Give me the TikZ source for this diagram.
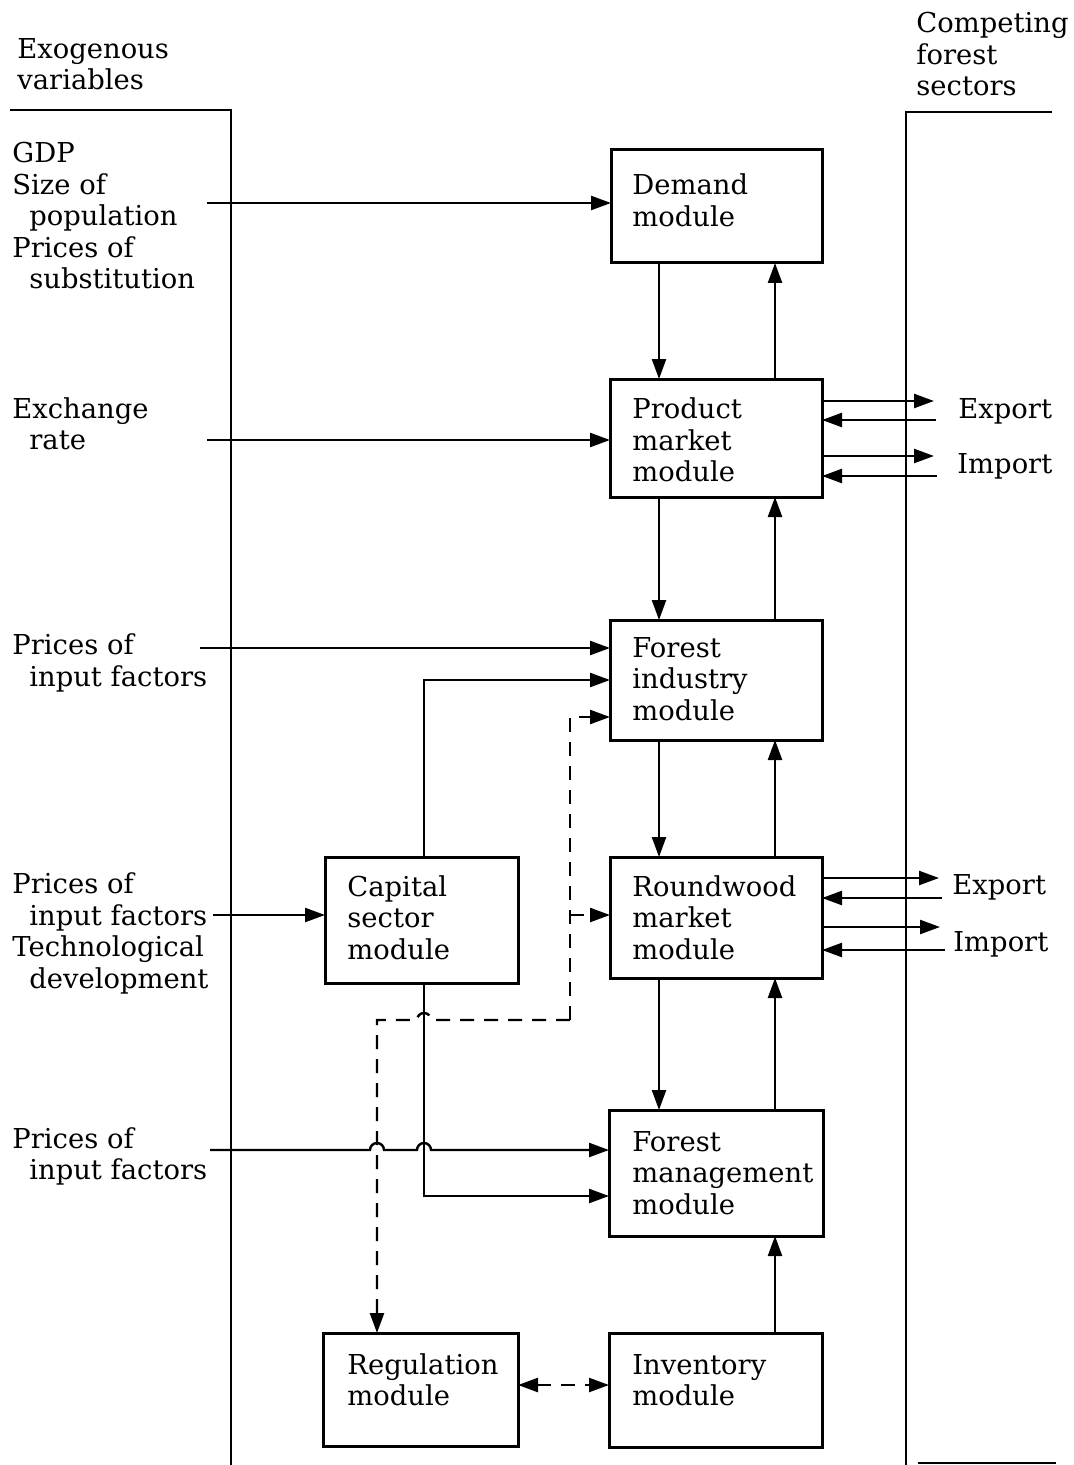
\documentclass[tikz,border=0pt]{standalone}
\usepackage{fontspec}
\setmainfont{DejaVu Serif}
\usetikzlibrary{arrows.meta}
\begin{document}
\begin{tikzpicture}[x=0.5pt,y=-0.5pt,
  box/.style 2 args={draw,line width=1.5pt,inner sep=0pt,outer sep=0pt,minimum width=#1*0.5pt,minimum height=#2*0.5pt},
  txt/.style={anchor=west,inner sep=0pt,align=left,font=\fontsize{13.7}{15.75}\selectfont},
  tip/.tip={Triangle[length=10pt,width=7pt]},
  conn/.style={line width=1.2pt,-tip},
  dsh/.style={conn,dash pattern=on 7pt off 5pt},
  frame/.style={line width=1pt}]
\useasboundingbox (0,0) rectangle (1073,1465);

% frame lines
\draw[frame] (10,110) -- (231,110) -- (231,1465);
\draw[frame] (1052,112) -- (906,112) -- (906,1465);
\draw[frame] (918,1463) -- (1056,1463);

% headers
\node[txt] (hl) at (17,64) {Exogenous\\variables};
\node[txt] (hr) at (916,54.5) {Competing\\forest\\sectors};

% boxes
\node[box={211}{113}] (demand) at (716.5,206.5) {};
\node[box={212}{118}] (pm) at (716,438) {};
\node[box={212}{120}] (fi) at (716,680) {};
\node[box={212}{121}] (rw) at (716,917.5) {};
\node[box={214}{126}] (fm) at (716,1173) {};
\node[box={213}{114}] (inv) at (715.5,1390) {};
\node[box={193}{126}] (cap) at (421.5,920) {};
\node[box={195}{113}] (reg) at (420.5,1389.5) {};

% box texts
\node[txt] (demandT) at (632,200.5) {Demand\\module};
\node[txt] (pmT) at (632,440) {Product\\market\\module};
\node[txt] (fiT) at (632,679) {Forest\\industry\\module};
\node[txt] (rwT) at (632,917.5) {Roundwood\\market\\module};
\node[txt] (fmT) at (632,1173) {Forest\\management\\module};
\node[txt] (invT) at (632,1380) {Inventory\\module};
\node[txt] (capT) at (347,917.5) {Capital\\sector\\module};
\node[txt] (regT) at (347,1380) {Regulation\\module};

% left labels
\node[txt] (l1) at (12,216) {GDP\\Size of\\\hspace{8.5pt}population\\Prices of\\\hspace{8.5pt}substitution};
\node[txt] (l2) at (12,424) {Exchange\\\hspace{8.5pt}rate};
\node[txt] (l3) at (12,663) {Prices of\\\hspace{8.5pt}input factors};
\node[txt] (l4) at (12,933.5) {Prices of\\\hspace{8.5pt}input factors\\Technological\\\hspace{8.5pt}development};
\node[txt] (l5) at (12,1156.5) {Prices of\\\hspace{8.5pt}input factors};

% right labels
\node[txt] (ex1) at (958,411) {Export};
\node[txt] (im1) at (957,466) {Import};
\node[txt] (ex2) at (952,887) {Export};
\node[txt] (im2) at (953,944) {Import};

% helper coordinates
\coordinate (xL) at (659,0);
\coordinate (xR) at (775,0);
\coordinate (cx) at (424,0);

% vertical flows
\draw[conn] (xL |- demand.south) -- (xL |- pm.north);
\draw[conn] (xR |- pm.north) -- (xR |- demand.south);
\draw[conn] (xL |- pm.south) -- (xL |- fi.north);
\draw[conn] (xR |- fi.north) -- (xR |- pm.south);
\draw[conn] (xL |- fi.south) -- (xL |- rw.north);
\draw[conn] (xR |- rw.north) -- (xR |- fi.south);
\draw[conn] (xL |- rw.south) -- (xL |- fm.north);
\draw[conn] (xR |- fm.north) -- (xR |- rw.south);
\draw[conn] (xR |- inv.north) -- (xR |- fm.south);

% exogenous inputs
\coordinate (in1) at (207,203);
\draw[conn] (in1) -- (in1 -| demand.west);
\coordinate (in2) at (207,440);
\draw[conn] (in2) -- (in2 -| pm.west);
\coordinate (in3) at (200,648);
\draw[conn] (in3) -- (in3 -| fi.west);
\coordinate (in4) at (213,915);
\draw[conn] (in4) -- (in4 -| cap.west);
\coordinate (in5) at (210,1150);
\draw[conn] (in5) -- (370,1150) arc[start angle=180,end angle=0,radius=3.5pt]
  -- (417,1150) arc[start angle=180,end angle=0,radius=3.5pt] -- (in5 -| fm.west);

% capital sector outputs
\draw[conn] (cx |- cap.north) |- (fi.west);
\coordinate (fmIn) at (0,1196);
\draw[conn] (cx |- cap.south) -- (cx |- fmIn) -- (fmIn -| fm.west);

% dashed links
\coordinate (dj) at (570,1020);
\coordinate (dfi) at (570,717);
\coordinate (drw) at (570,915);
\coordinate (dreg) at (377,1020);
\draw[dsh] (dj) -- (dfi) -- (dfi -| fi.west);
\draw[dsh] (drw) -- (drw -| rw.west);
\draw[dsh] (dj) -- (431,1020) arc[start angle=0,end angle=180,radius=3.5pt] -- (dreg) -- (dreg |- reg.north);
\coordinate (ri) at (0,1385);
\draw[dsh,tip-tip] (ri -| reg.east) -- (ri -| inv.west);

% export / import
\coordinate (e1) at (934,401);
\coordinate (e2) at (936,420);
\coordinate (e3) at (934,456);
\coordinate (e4) at (937,476);
\draw[conn] (e1 -| pm.east) -- (e1);
\draw[conn] (e2) -- (e2 -| pm.east);
\draw[conn] (e3 -| pm.east) -- (e3);
\draw[conn] (e4) -- (e4 -| pm.east);
\coordinate (e5) at (939,878);
\coordinate (e6) at (942,898);
\coordinate (e7) at (940,927);
\coordinate (e8) at (945,950);
\draw[conn] (e5 -| rw.east) -- (e5);
\draw[conn] (e6) -- (e6 -| rw.east);
\draw[conn] (e7 -| rw.east) -- (e7);
\draw[conn] (e8) -- (e8 -| rw.east);
\end{tikzpicture}
\end{document}
